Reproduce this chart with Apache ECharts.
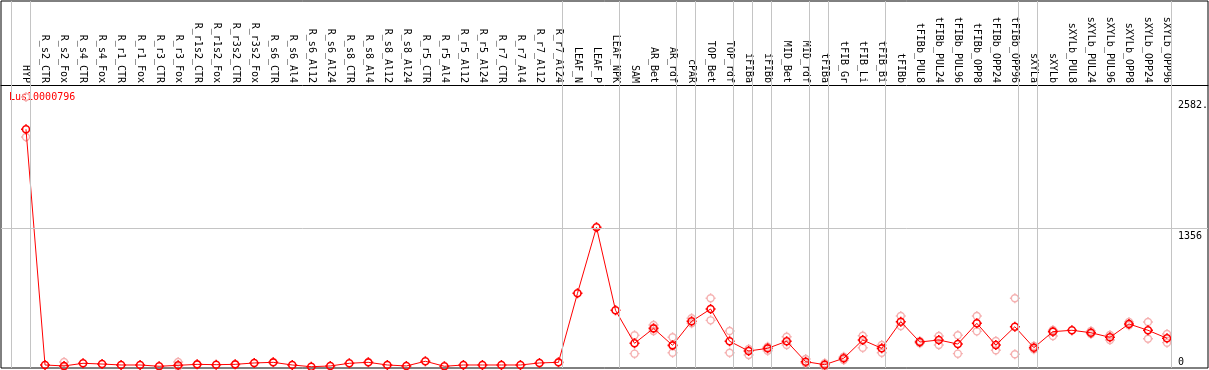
<!DOCTYPE html>
<html>
<head>
<meta charset="utf-8">
<script src="https://cdn.jsdelivr.net/npm/echarts@6/dist/echarts.min.js"></script>
<style>
html,body{margin:0;padding:0;background:#fff;}
#chart{width:1209px;height:370px;}
</style>
</head>
<body>
<div id="chart"></div>
<script>
const geneName = 'Lus10000796';
const categories = ['HYP','R_s2_CTR','R_s2_Fox','R_s4_CTR','R_s4_Fox','R_r1_CTR','R_r1_Fox','R_r3_CTR','R_r3_Fox','R_r1s2_CTR','R_r1s2_Fox','R_r3s2_CTR','R_r3s2_Fox','R_s6_CTR','R_s6_Al4','R_s6_Al12','R_s6_Al24','R_s8_CTR','R_s8_Al4','R_s8_Al12','R_s8_Al24','R_r5_CTR','R_r5_Al4','R_r5_Al12','R_r5_Al24','R_r7_CTR','R_r7_Al4','R_r7_Al12','R_r7_Al24','LEAF_N','LEAF_P','LEAF_NPK','SAM','AR_Bet','AR_rdf','cPAR','TOP_Bet','TOP_rdf','iFIBa','iFIBb','MID_Bet','MID_rdf','tFIBa','tFIB_Gr','tFIB_Li','tFIB_Bi','tFIBb','tFIBb_PUL8','tFIBb_PUL24','tFIBb_PUL96','tFIBb_OPP8','tFIBb_OPP24','tFIBb_OPP96','sXYLa','sXYLb','sXYLb_PUL8','sXYLb_PUL24','sXYLb_PUL96','sXYLb_OPP8','sXYLb_OPP24','sXYLb_OPP96'];
const means = [2280,74,65,90,83,74,74,62,71,80,77,80,93,99,74,58,65,90,99,74,65,109,62,74,74,74,74,93,99,745,1363,586,277,417,258,483,598,296,205,230,296,105,77,137,308,230,479,289,308,270,464,261,432,236,386,399,376,333,458,399,324];
const rep1 = [2582,null,102,null,null,null,null,null,102,null,null,null,null,null,null,null,null,null,null,null,null,null,null,null,null,null,null,null,null,null,null,null,352,448,333,511,698,392,224,245,339,130,90,152,348,261,533,299,345,352,533,299,698,252,402,null,392,355,476,476,364];
const rep2 = [2208,null,58,null,null,null,null,null,58,null,null,null,null,null,null,null,null,null,null,null,null,null,null,null,null,null,null,null,null,null,null,null,180,392,189,464,492,189,168,208,261,90,58,121,236,189,439,277,261,180,389,212,174,221,345,null,364,308,445,320,283];
// group separators: vertical grid lines drawn just after these category indices
const groupEnds = [-1,0,28,31,34,35,37,38,39,41,42,45,52,53,60];
const yTickValues = [0,1356,2582];
const yTickTexts = ['0','1356','2582.'];

const xMin = -1.3146, xMax = 62.156;
const yMin = 45.9, yMax = 3480.5;
const mono = '"DejaVu Sans Mono", "Liberation Mono", monospace';
// ring with four short stubs (box 0..10)
const sym = 'path://M5,0V1.5M5,8.5V10M0,5H1.5M8.5,5H10' +
  'M8.5,5C8.5,6.933 6.933,8.5 5,8.5C3.067,8.5 1.5,6.933 1.5,5C1.5,3.067 3.067,1.5 5,1.5C6.933,1.5 8.5,3.067 8.5,5Z';

const meanData = means.map((v,i)=>[i,v]);
const repData = [];
[rep1, rep2].forEach(r => r.forEach((v,i)=>{ if (v != null) repData.push([i,v]); }));
const idx = categories.map((_,i)=>i);

const chart = echarts.init(document.getElementById('chart'), null, {renderer:'canvas'});
chart.setOption({
  animation:false,
  backgroundColor:'#fff',
  grid:{left:1,right:1,top:1,bottom:2,show:true,borderColor:'#000',borderWidth:1,backgroundColor:'transparent'},
  xAxis:[
    {type:'value',min:xMin,max:xMax,show:false},
    {type:'value',min:xMin,max:xMax,position:'top',offset:-84,
     axisLine:{show:true,onZero:false,lineStyle:{color:'#000',width:1}},
     axisTick:{show:false},splitLine:{show:false},
     axisLabel:{customValues:idx,formatter:v=>categories[Math.round(v)],rotate:90,margin:2,
       fontFamily:mono,fontSize:10,color:'#000'}}
  ],
  yAxis:{type:'value',min:yMin,max:yMax,show:false},
  series:[
    {type:'scatter',data:repData,symbol:sym,symbolSize:10,z:2,
     itemStyle:{color:'rgba(255,255,255,0)',borderColor:'#f29c9c',borderWidth:1.4},
     markLine:{silent:true,symbol:'none',label:{show:false},
       lineStyle:{color:'#c4c4c4',width:1,type:'solid'},
       data:groupEnds.map(g=>({xAxis:g+0.2})).concat([{yAxis:1356}])}
    },
    {type:'line',data:meanData,symbol:sym,symbolSize:10,showAllSymbol:true,z:3,
     lineStyle:{color:'#ff0000',width:1},
     itemStyle:{color:'rgba(255,255,255,0)',borderColor:'#ff0000',borderWidth:1.6}}
  ]
});

const g = yTickValues.map((v,i)=>{
  const py = chart.convertToPixel({yAxisIndex:0}, v);
  return {type:'text',x:1178,y:Math.min(py+8,362),
    style:{text:yTickTexts[i],font:'10px '+mono,fill:'#000',verticalAlign:'middle',align:'left'}};
});
g.push({type:'text',x:9,y:97,style:{text:geneName,font:'10px '+mono,fill:'#ff0000',verticalAlign:'middle',align:'left'}});
chart.setOption({graphic:g});
</script>
</body>
</html>
